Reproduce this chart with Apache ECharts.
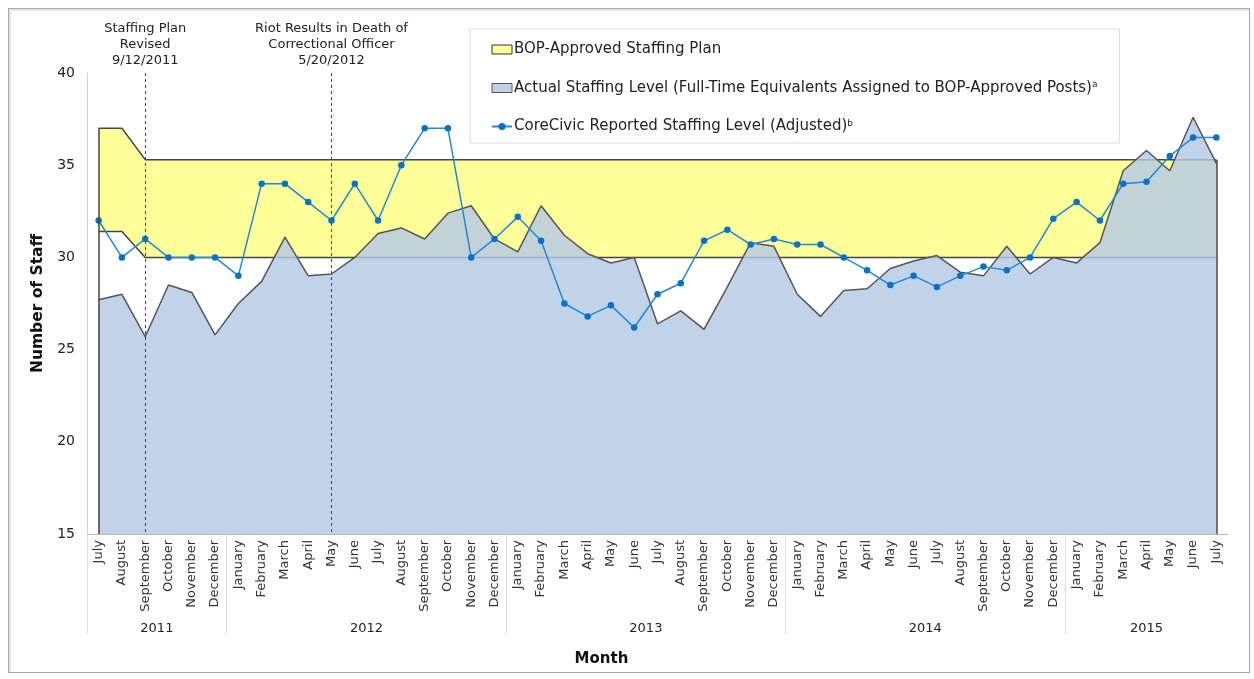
<!DOCTYPE html>
<html>
<head>
<meta charset="utf-8">
<script src="https://cdn.jsdelivr.net/npm/echarts@6/dist/echarts.min.js"></script>
<style>
  body { margin: 0; background: #fff; }
  #frame { position: absolute; left: 8px; top: 8px; width: 1240px; height: 663px; border: 1px solid #a8a8a8; box-shadow: inset 2px 2px 0 #e6e6e6; }
  #chart { position: absolute; left: 0; top: 0; width: 1254px; height: 679px; }
</style>
</head>
<body>
<div id="frame"></div>
<div id="chart"></div>
<script>
// month labels, July 2011 .. July 2015
const months = [
  'July', 'August', 'September', 'October', 'November', 'December',
  'January', 'February', 'March', 'April', 'May', 'June', 'July', 'August', 'September', 'October', 'November', 'December',
  'January', 'February', 'March', 'April', 'May', 'June', 'July', 'August', 'September', 'October', 'November', 'December',
  'January', 'February', 'March', 'April', 'May', 'June', 'July', 'August', 'September', 'October', 'November', 'December',
  'January', 'February', 'March', 'April', 'May', 'June', 'July'
]
// year groups: [label, number of months]
const years = [['2011', 6], ['2012', 12], ['2013', 12], ['2014', 12], ['2015', 7]]

const planUpper = [
  37, 37, 35.3, 35.3, 35.3, 35.3,
  35.3, 35.3, 35.3, 35.3, 35.3, 35.3, 35.3, 35.3, 35.3, 35.3, 35.3, 35.3,
  35.3, 35.3, 35.3, 35.3, 35.3, 35.3, 35.3, 35.3, 35.3, 35.3, 35.3, 35.3,
  35.3, 35.3, 35.3, 35.3, 35.3, 35.3, 35.3, 35.3, 35.3, 35.3, 35.3, 35.3,
  35.3, 35.3, 35.3, 35.3, 35.3, 35.3, 35.3
]
const planLower = [
  31.4, 31.4, 30, 30, 30, 30,
  30, 30, 30, 30, 30, 30, 30, 30, 30, 30, 30, 30,
  30, 30, 30, 30, 30, 30, 30, 30, 30, 30, 30, 30,
  30, 30, 30, 30, 30, 30, 30, 30, 30, 30, 30, 30,
  30, 30, 30, 30, 30, 30, 30
]
const actual = [
  27.7, 28.0, 25.7, 28.5, 28.1, 25.8,
  27.5, 28.7, 31.1, 29.0, 29.1, 30.0, 31.3, 31.6, 31.0, 32.4, 32.8, 31.0,
  30.3, 32.8, 31.2, 30.2, 29.7, 30.0, 26.4, 27.1, 26.1, 28.4, 30.8, 30.6,
  28.0, 26.8, 28.2, 28.3, 29.4, 29.8, 30.1, 29.2, 29.0, 30.6, 29.1, 30.0,
  29.7, 30.8, 34.7, 35.8, 34.7, 37.6, 35.1
]
const reported = [
  32, 30, 31, 30, 30, 30,
  29, 34, 34, 33, 32, 34, 32, 35, 37, 37, 30, 31,
  32.2, 30.9, 27.5, 26.8, 27.4, 26.2, 28.0, 28.6, 30.9, 31.5, 30.7, 31.0,
  30.7, 30.7, 30.0, 29.3, 28.5, 29.0, 28.4, 29.0, 29.5, 29.3, 30.0, 32.1,
  33.0, 32.0, 34.0, 34.1, 35.5, 36.5, 36.5
]
// events marked with dotted lines (index into months)
const events = [
  { month: 2, text: 'Staffing Plan\nRevised\n9/12/2011' },
  { month: 10, text: 'Riot Results in Death of\nCorrectional Officer\n5/20/2012' }
]

const names = {
  plan: 'BOP-Approved Staffing Plan',
  actual: 'Actual Staffing Level (Full-Time Equivalents Assigned to BOP-Approved Posts)',
  reported: 'CoreCivic Reported Staffing Level (Adjusted)'
}
const notes = { [names.actual]: 'a', [names.reported]: 'b' }

const yMin = 15
const yMax = 40
const last = months.length - 1

// year axis: half-month points so group centres and borders fall on points
const yearPoints = []
const yearBorders = []
let pos = 0
years.forEach(([label, n]) => {
  yearBorders.push(pos)
  for (let k = 0; k < n * 2; k++) {
    yearPoints.push(k === n ? label : '')
  }
  pos += n * 2
})
yearPoints.push('')

const planBand = planUpper.map((v, i) => +(v - planLower[i]).toFixed(2))

const chart = echarts.init(document.getElementById('chart'))
chart.setOption({
  animation: false,
  textStyle: { fontFamily: 'DejaVu Sans' },
  grid: { left: 87, right: 26, top: 73, bottom: 145 },
  legend: {
    orient: 'vertical',
    left: 470,
    top: 29,
    padding: [13, 22, 9, 21],
    itemGap: 23.5,
    itemWidth: 20,
    itemHeight: 9,
    borderColor: '#dcdcdc',
    borderWidth: 1,
    backgroundColor: '#fff',
    textStyle: {
      fontSize: 15,
      color: '#222',
      padding: [0, 0, 0, -3],
      rich: { sup: { fontSize: 9, verticalAlign: 'top', color: '#222' } }
    },
    formatter: (name) => notes[name] ? name + '{sup|' + notes[name] + '}' : name,
    data: [
      { name: names.plan, icon: 'rect', itemStyle: { color: '#ffff99', borderColor: '#333', borderWidth: 1 } },
      { name: names.actual, icon: 'rect', itemStyle: { color: '#c0d2e8', borderColor: '#555', borderWidth: 1 } },
      { name: names.reported }
    ]
  },
  xAxis: [
    {
      type: 'category',
      data: months,
      boundaryGap: true,
      axisLine: { lineStyle: { color: '#b8b8b8' } },
      axisTick: { show: false },
      axisLabel: { rotate: 90, interval: 0, fontSize: 13, color: '#333', margin: 6 }
    },
    {
      type: 'category',
      data: yearPoints,
      boundaryGap: false,
      position: 'bottom',
      axisLine: { show: false },
      axisTick: {
        interval: (idx) => yearBorders.includes(idx),
        length: 100,
        lineStyle: { color: '#dedede' }
      },
      axisLabel: { interval: 0, fontSize: 13, color: '#222', margin: 88 },
      name: 'Month',
      nameLocation: 'middle',
      nameGap: 118,
      nameTextStyle: { fontSize: 15, fontWeight: 'bold', color: '#111', padding: [0, 112, 0, 0] }
    }
  ],
  yAxis: {
    type: 'value',
    min: yMin,
    max: yMax,
    interval: 5,
    axisLine: { show: true, lineStyle: { color: '#d0d0d0' } },
    axisTick: { show: false },
    splitLine: { show: false },
    axisLabel: { fontSize: 14, color: '#222', margin: 12 },
    name: 'Number of Staff',
    nameLocation: 'middle',
    nameGap: 37,
    nameTextStyle: { fontSize: 15.5, fontWeight: 'bold', color: '#111' }
  },
  series: [
    {
      name: 'planBase',
      type: 'line',
      stack: 'plan',
      data: planLower,
      symbol: 'none',
      lineStyle: { color: '#444', width: 1.5 },
      z: 1
    },
    {
      name: names.plan,
      type: 'line',
      stack: 'plan',
      data: planBand,
      symbol: 'none',
      lineStyle: { color: '#444', width: 1.5 },
      areaStyle: { color: '#ffff99', opacity: 1 },
      z: 1
    },
    {
      name: names.actual,
      type: 'line',
      data: actual,
      symbol: 'none',
      lineStyle: { color: '#555', width: 1.5 },
      areaStyle: { color: '#b3c9e4', opacity: 0.82 },
      z: 2,
      markLine: {
        silent: true,
        symbol: 'none',
        label: { show: false },
        lineStyle: { type: 'solid', color: '#444', width: 1.5 },
        data: [
          [{ coord: [0, planUpper[0]] }, { coord: [0, yMin] }],
          [{ coord: [last, planUpper[last]] }, { coord: [last, yMin] }]
        ]
      }
    },
    {
      name: names.reported,
      type: 'line',
      data: reported,
      symbol: 'circle',
      symbolSize: 6.5,
      itemStyle: { color: '#0a72c6' },
      lineStyle: { color: '#2288d8', width: 1.5 },
      z: 3,
      markLine: {
        silent: true,
        symbol: 'none',
        lineStyle: { type: [3, 3], color: '#444', width: 1 },
        label: { position: 'start', distance: 4, fontSize: 13, lineHeight: 16, color: '#222' },
        data: events.map((e) => [
          { coord: [e.month, yMax], label: { formatter: e.text } },
          { coord: [e.month, yMin] }
        ])
      }
    }
  ]
})
</script>
</body>
</html>
